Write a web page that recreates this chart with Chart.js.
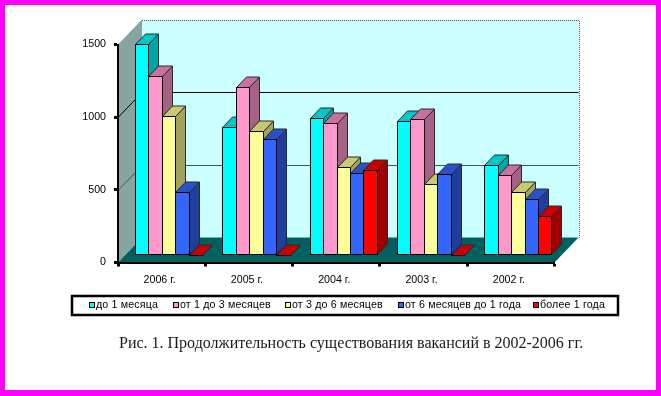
<!DOCTYPE html>
<html><head><meta charset="utf-8">
<style>
html,body{margin:0;padding:0;background:#fff;overflow:hidden}
#c{position:absolute;left:0;top:0}
#frame{position:absolute;left:0;top:0;width:661px;height:396px;box-sizing:border-box;border:solid #ff00ff;border-width:5px 5px 6px 5px;pointer-events:none}
</style>
<script src="https://cdn.jsdelivr.net/npm/chart.js@4/dist/chart.umd.js"></script>
</head><body>
<canvas id="c" width="661" height="396"></canvas><div id="frame"></div>
<script>
const categories = ['2006 г.', '2005 г.', '2004 г.', '2003 г.', '2002 г.'];
const seriesNames = ['до 1 месяца', 'от 1 до 3 месяцев', 'от 3 до 6 месяцев', 'от 6 месяцев до 1 года', 'более 1 года'];
const upTo1Month = [1445, 874, 938, 922, 619];
const from1To3 = [1229, 1154, 908, 929, 546];
const from3To6 = [952, 851, 603, 486, 433];
const from6To12 = [431, 796, 562, 555, 383];
const over1Year = [0, 0, 580, 0, 268];
const frontColors = ['#00ffff', '#ff99cc', '#ffff99', '#3366ff', '#ff0000'];
const topColors = ['#00c8c8', '#c9709e', '#c9c96e', '#2a52c8', '#c80000'];
const sideColors = ['#00a5a5', '#a66285', '#a3a361', '#1e3f9e', '#a00000'];
const yTicks = [0, 500, 1000, 1500];
const caption = 'Рис. 1. Продолжительность существования вакансий в 2002-2006 гг.';
const legendBoxX = [89, 173, 285, 398, 533];

const allSeries = [upTo1Month, from1To3, from3To6, from6To12, over1Year];
const WALL_DX = 24, WALL_DY = 25, BAR_OX = 7, BAR_OY = -8, BAR_DX = 10, BAR_DY = 10.5;

function poly(ctx, pts, fill, stroke) {
  ctx.beginPath();
  pts.forEach((p, i) => i ? ctx.lineTo(p[0], p[1]) : ctx.moveTo(p[0], p[1]));
  ctx.closePath();
  if (fill) { ctx.fillStyle = fill; ctx.fill(); }
  if (stroke) { ctx.strokeStyle = stroke; ctx.lineWidth = 1; ctx.stroke(); }
}

const walls3d = {
  id: 'walls3d',
  beforeDraw(chart) {
    const {ctx, chartArea: a, scales: {y}} = chart;
    const dx = WALL_DX, dy = WALL_DY;
    ctx.save();
    poly(ctx, [[a.left + dx, a.top - dy], [a.right + dx, a.top - dy], [a.right + dx, a.bottom - dy], [a.left + dx, a.bottom - dy]], '#ccffff');
    poly(ctx, [[a.left, a.top], [a.left + dx, a.top - dy], [a.left + dx, a.bottom - dy], [a.left, a.bottom]], '#86a5a2');
    yTicks.slice(1, -1).forEach(v => {
      const py = Math.round(y.getPixelForValue(v)) + 0.5;
      ctx.strokeStyle = v === 500 ? '#3c5a5a' : '#000';
      ctx.lineWidth = 1;
      ctx.beginPath();
      ctx.moveTo(a.left, py);
      ctx.lineTo(a.left + dx, py - dy);
      ctx.lineTo(a.right + dx, py - dy);
      ctx.stroke();
    });
    poly(ctx, [[a.left, a.bottom], [a.left + dx, a.bottom - dy], [a.right + dx, a.bottom - dy], [a.right, a.bottom]], '#006060');
    ctx.setLineDash([1, 1]);
    ctx.strokeStyle = '#555';
    ctx.beginPath();
    const tx = a.left + dx, ty = Math.round(a.top - dy) + 0.5, rx = Math.round(a.right + dx) + 0.5, by = a.bottom - dy;
    ctx.moveTo(tx, ty); ctx.lineTo(rx, ty); ctx.lineTo(rx, by);
    ctx.stroke();
    ctx.setLineDash([]);
    ctx.restore();
  },
  beforeDatasetsDraw(chart) {
    const ctx = chart.ctx;
    const metas = chart.data.datasets.map((d, i) => chart.getDatasetMeta(i));
    ctx.save();
    categories.forEach((c, ci) => {
      metas.forEach((meta, si) => {
        const el = meta.data[ci];
        const x0 = Math.round(el.x - el.width / 2 + BAR_OX) + 0.5;
        const x1 = Math.round(el.x + el.width / 2 + BAR_OX) + 0.5;
        const yt = Math.round(el.y + BAR_OY) + 0.5;
        const yb = Math.round(el.base + BAR_OY) + 0.5;
        poly(ctx, [[x1, yt], [x1 + BAR_DX, yt - BAR_DY], [x1 + BAR_DX, yb - BAR_DY], [x1, yb]], sideColors[si], '#2a2a2a');
        poly(ctx, [[x0, yt], [x1, yt], [x1 + BAR_DX, yt - BAR_DY], [x0 + BAR_DX, yt - BAR_DY]], topColors[si], '#2a2a2a');
        poly(ctx, [[x0, yt], [x1, yt], [x1, yb], [x0, yb]], frontColors[si], '#000');
      });
    });
    ctx.restore();
    return false;
  },
  afterDraw(chart) {
    const ctx = chart.ctx;
    ctx.save();
    ctx.strokeStyle = '#000';
    ctx.lineWidth = 2.5;
    ctx.strokeRect(72, 296, 546, 19);
    ctx.font = '10.67px "Liberation Sans"';
    ctx.letterSpacing = '0.15px';
    ctx.textBaseline = 'middle';
    chart.data.datasets.forEach((d, i) => {
      const bx = legendBoxX[i];
      ctx.fillStyle = '#000';
      ctx.fillRect(bx, 302, 6, 6);
      ctx.fillStyle = d.backgroundColor;
      ctx.fillRect(bx + 1, 303, 4, 4);
      ctx.fillStyle = '#000';
      ctx.fillText(d.label, bx + 7, 305.5);
    });
    ctx.letterSpacing = '0px';
    ctx.font = '16px "Liberation Serif"';
    ctx.fillStyle = '#1a1a1a';
    ctx.textBaseline = 'alphabetic';
    ctx.fillText(caption, 119, 348);
    ctx.restore();
  }
};

new Chart(document.getElementById('c'), {
  type: 'bar',
  data: {
    labels: categories,
    datasets: allSeries.map((values, i) => ({
      label: seriesNames[i],
      data: values,
      backgroundColor: frontColors[i],
      borderColor: '#000',
      borderWidth: 1,
      categoryPercentage: 0.77,
      barPercentage: 1
    }))
  },
  plugins: [walls3d],
  options: {
    responsive: false,
    animation: false,
    layout: {padding: {left: 0, top: 44.5, right: 106.5, bottom: 0}},
    plugins: {legend: {display: false}, title: {display: false}, tooltip: {enabled: false}},
    scales: {
      x: {
        afterFit(s) { s.height = 396 - 262.5; },
        ticks: {color: '#000', font: {family: '"Liberation Sans"', size: 10.67}, padding: 7, labelOffset: -2, maxRotation: 0},
        grid: {drawOnChartArea: false, tickLength: 4, tickWidth: 3, tickColor: '#000'},
        border: {color: '#000', width: 2}
      },
      y: {
        min: 0, max: 1500,
        afterFit(s) { s.width = 118; },
        afterBuildTicks(s) { s.ticks = yTicks.map(v => ({value: v})); },
        ticks: {color: '#000', font: {family: '"Liberation Sans"', size: 10.67}, padding: 8, callback: v => String(v)},
        grid: {drawOnChartArea: false, tickLength: 4, tickWidth: 3, tickColor: '#000'},
        border: {color: '#000', width: 2}
      }
    }
  }
});
</script>
</body></html>
